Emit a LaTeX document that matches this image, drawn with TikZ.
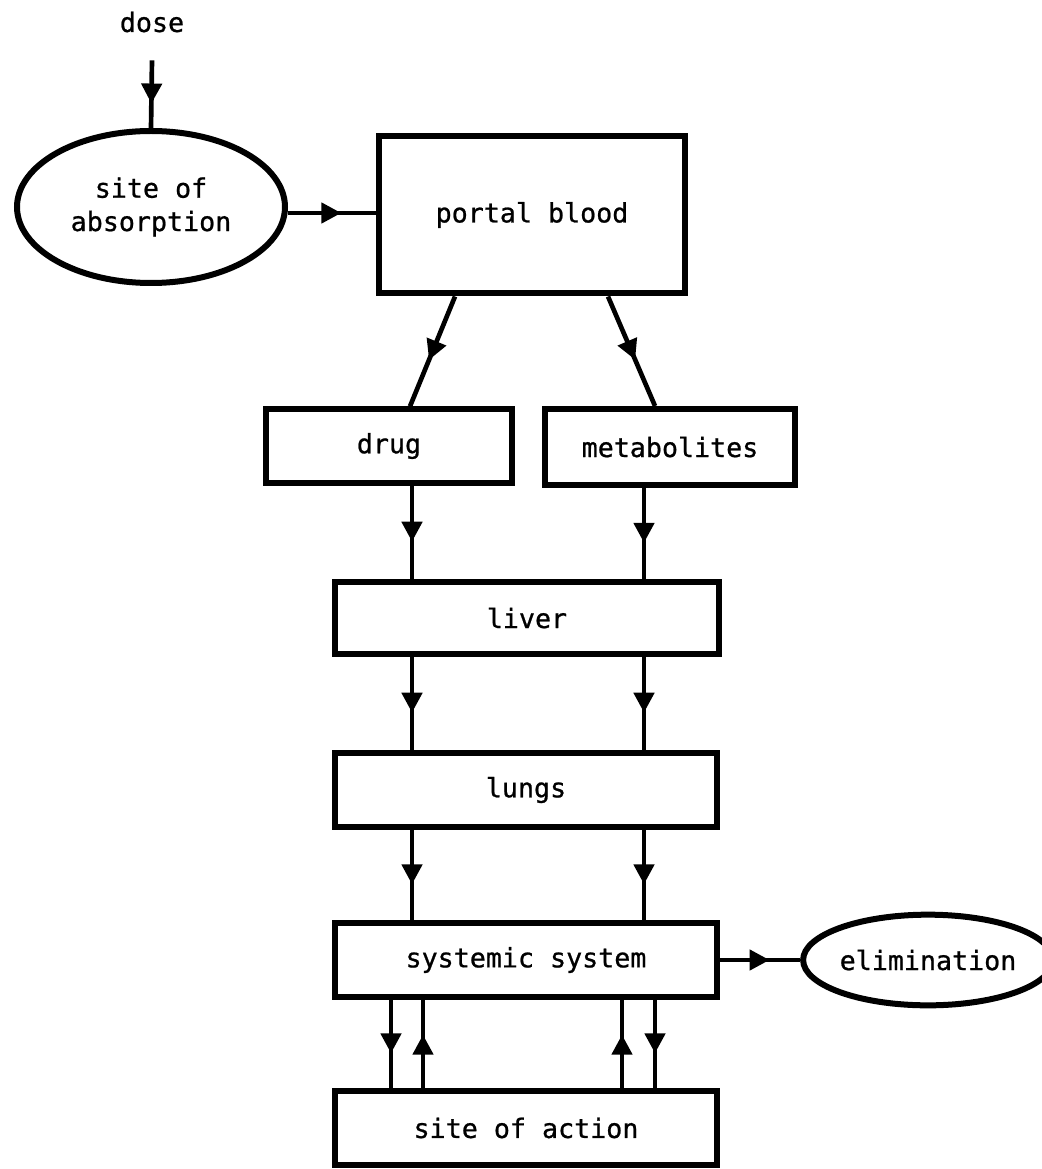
\documentclass[tikz,border=0pt]{standalone}
\usepackage{fontspec}
\newfontfamily\boxfont[FakeBold=0.8]{DejaVu Sans Mono}
\usetikzlibrary{arrows.meta,decorations.markings,shapes.geometric}

\begin{document}
\begin{tikzpicture}[x=0.75pt,y=-0.75pt,line width=3.5pt,
        font=\boxfont\fontsize{20}{25}\selectfont,
        box node/.style={rectangle,draw,line width=4.5pt,inner sep=0pt},
        oval node/.style={ellipse,draw,line width=4.5pt,inner sep=0pt,align=center},
        flow/.style={postaction={decorate},decoration={markings,
            mark=at position 0.5 with {\pgftransformxshift{7pt}\arrow{Triangle[length=15pt,width=15pt]}}}}]
            \useasboundingbox (0,0) rectangle (1041,1169);
            \node (dose) at (152,22) {dose};
            \node[oval node,minimum width=201pt,minimum height=114pt] (absorption) at (151,207) {site of\\absorption};
            \node[box node,minimum width=229.5pt,minimum height=117.75pt] (portal) at (532,215) {portal blood};
            \node[box node,minimum width=185pt,minimum height=55pt] (drug) at (389,446) {drug};
            \node[box node,minimum width=187.5pt,minimum height=57pt] (metabolites) at (670,447) {metabolites};
            \node[box node,minimum width=288pt,minimum height=54pt] (liver) at (527,618) {liver};
            \node[box node,minimum width=287pt,minimum height=56pt] (lungs) at (526,790) {lungs};
            \node[box node,minimum width=287pt,minimum height=56pt] (systemic) at (526,960) {systemic system};
            \node[box node,minimum width=287pt,minimum height=56pt] (action) at (526,1128) {site of action};
            \node[oval node,minimum width=165pt,minimum height=68pt] (elimination) at (928,960) {elimination};
            % columns of the connectors
            \coordinate (pl) at (455,0);
            \coordinate (dl) at (410,0);
            \coordinate (pr) at (608,0);
            \coordinate (mr) at (655,0);
            \coordinate (lcol) at (412,0);
            \coordinate (rcol) at (644,0);
            \coordinate (a1) at (391,0);
            \coordinate (a2) at (423,0);
            \coordinate (a3) at (622,0);
            \coordinate (a4) at (655,0);
            \draw[flow] ([yshift=-16pt]dose.south) -- (absorption.north);
            \draw[flow] ([yshift=-4.5pt]absorption.east) -- ([yshift=-4.5pt]absorption.east -| portal.west);
            \draw[flow] (portal.south -| pl) -- (drug.north -| dl);
            \draw[flow] (portal.south -| pr) -- (metabolites.north -| mr);
            \draw[flow] (drug.south -| lcol) -- (liver.north -| lcol);
            \draw[flow] (metabolites.south -| rcol) -- (liver.north -| rcol);
            \draw[flow] (liver.south -| lcol) -- (lungs.north -| lcol);
            \draw[flow] (liver.south -| rcol) -- (lungs.north -| rcol);
            \draw[flow] (lungs.south -| lcol) -- (systemic.north -| lcol);
            \draw[flow] (lungs.south -| rcol) -- (systemic.north -| rcol);
            \draw[flow] (systemic.east) -- (elimination.west);
            \draw[flow] (systemic.south -| a1) -- (action.north -| a1);
            \draw[flow] (action.north -| a2) -- (systemic.south -| a2);
            \draw[flow] (action.north -| a3) -- (systemic.south -| a3);
            \draw[flow] (systemic.south -| a4) -- (action.north -| a4);
\end{tikzpicture}
\end{document}
